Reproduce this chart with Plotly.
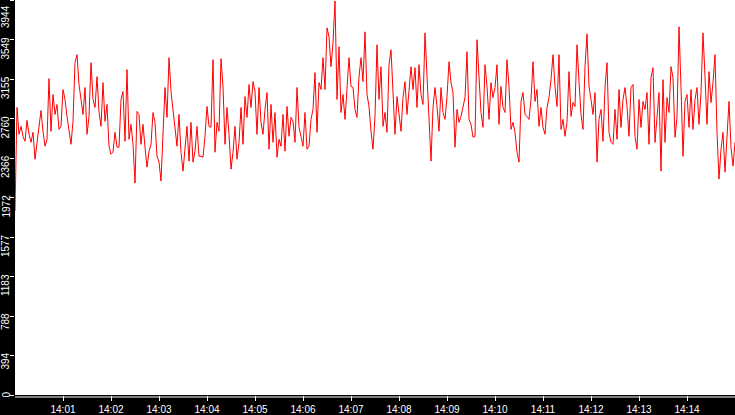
import pandas as pd
import plotly.graph_objects as go

# one reading every 2.5 s, 14:00:00 -> 14:15:00
start = pd.Timestamp('2024-01-01 14:00:00')
step = '2500ms'

seg_1 = [1838, 2871, 2603, 2682, 2583, 2533, 2742, 2603, 2523, 2623, 2354, 2533, 2702, 2841, 2633,
         2484, 2553, 3159, 2633, 3000, 2801, 2901, 2652, 2682, 3050, 2951, 2782, 2633, 2503, 2732,
         3318, 3398, 3100, 2951, 2801, 3070, 2603, 2782, 3318, 2951, 2871, 3179, 2831, 2682, 3119]
seg_2 = [2732, 2901, 2484, 2404, 2424, 2623, 2474, 2474, 2951, 3030, 2533, 3249, 2553, 2702, 2503,
         2116, 2831, 2801, 2503, 2702, 2474, 2275, 2434, 2503, 2821, 2722, 2384, 2325, 2136, 2583,
         3070, 2772, 3368, 3030, 2831, 2633, 2484, 2801, 2424, 2235, 2503, 2682, 2335, 2722, 2325]
seg_3 = [2434, 2682, 2384, 2384, 2374, 2583, 2881, 2682, 2672, 3348, 2424, 2722, 2633, 3358, 3080,
         2503, 2871, 2603, 2255, 2424, 2682, 2354, 2523, 2871, 2503, 2980, 2772, 3100, 2871, 3129,
         3030, 2603, 3070, 2722, 2603, 2851, 3020, 2454, 2901, 2523, 2821, 2374, 2553, 2484, 2801]
seg_4 = [2434, 2881, 2583, 2772, 2732, 2523, 3070, 2672, 2583, 2484, 2821, 2454, 2484, 2752, 2851,
         3219, 2623, 3119, 3050, 3368, 3050, 3666, 3576, 3278, 3517, 3934, 2951, 3477, 2821, 3000,
         2752, 3050, 3368, 3080, 3070, 2851, 2772, 3179, 3368, 3129, 3626, 3000, 2881, 2633, 2454]
seg_5 = [2782, 3497, 2951, 3278, 2682, 2821, 2623, 3298, 3447, 3020, 2603, 2980, 2782, 2633, 2970,
         3129, 2801, 3020, 3278, 3050, 3268, 2871, 3298, 3000, 2901, 3616, 3199, 2801, 2335, 2871,
         3070, 2881, 2633, 3070, 2821, 2752, 2980, 3328, 3119, 3020, 2474, 2851, 2722, 2782, 2881]
seg_6 = [2970, 3427, 2752, 2702, 2573, 2583, 3547, 3179, 2821, 2672, 3298, 3080, 2752, 3119, 2970,
         3070, 3298, 2702, 3080, 2871, 2821, 3348, 3080, 2652, 2722, 2623, 2424, 2325, 2931, 3020,
         2801, 2782, 2752, 2951, 3328, 2931, 3050, 2682, 2871, 2672, 2603, 2871, 2970, 3149, 3398]
seg_7 = [3080, 2881, 3398, 2652, 2752, 2583, 2722, 3229, 2782, 2921, 2881, 3497, 3129, 2801, 2652,
         3278, 3606, 3080, 2951, 2801, 3020, 2325, 2752, 2851, 2533, 3070, 3318, 2623, 2523, 2503,
         2851, 2553, 3050, 2672, 2951, 3070, 2881, 2583, 3070, 3100, 2583, 2454, 2951, 2672, 2931]
seg_8 = [2851, 3020, 2503, 3169, 3268, 2523, 2772, 3020, 2235, 3149, 2523, 2970, 2821, 3278, 3169,
         2573, 2772, 3676, 3070, 2384, 2931, 3000, 2672, 3050, 2652, 2951, 3070, 2702, 3020, 3616,
         3179, 2702, 3229, 2921, 3119, 3398, 2623, 2156, 2454, 2623, 2225, 2533, 2931, 2474, 2285,
         2523]

values = seg_1 + seg_2 + seg_3 + seg_4 + seg_5 + seg_6 + seg_7 + seg_8
times = pd.date_range(start, periods=len(values), freq=step)

y_max = 3944
y_ticks = [0, 394, 788, 1183, 1577, 1972, 2366, 2760, 3155, 3549, 3944]
x_labels = ['14:01', '14:02', '14:03', '14:04', '14:05', '14:06', '14:07',
            '14:08', '14:09', '14:10', '14:11', '14:12', '14:13', '14:14']
x_ticks = [pd.Timestamp('2024-01-01 ' + t) for t in x_labels]

font = dict(family='Liberation Sans, Arial, sans-serif', size=10, color='white')

fig = go.Figure()
fig.add_trace(go.Scatter(x=times, y=values, mode='lines',
                         line=dict(color='#ff0000', width=1), hoverinfo='skip'))

# y labels drawn as rotated text just below each tick
for v in y_ticks:
    top = v == y_max
    fig.add_annotation(x=0, xref='paper', xanchor='right', xshift=-2,
                       y=v, yref='y', yanchor='top', yshift=-3 if top else 5,
                       text=str(v), textangle=-90, showarrow=False, font=font)

# white base line just under the plot area
fig.add_shape(type='line', xref='paper', yref='paper', x0=0, x1=1,
              y0=-2 / 397, y1=-2 / 397, line=dict(color='white', width=1))

fig.update_layout(
    width=735, height=415,
    margin=dict(l=15, r=0, t=0, b=18),
    paper_bgcolor='black', plot_bgcolor='white',
    showlegend=False,
    xaxis=dict(range=[start, start + pd.Timedelta(minutes=15)],
               tickvals=x_ticks, ticktext=x_labels,
               ticks='outside', ticklen=5, tickcolor='white',
               tickfont=font, showgrid=False, zeroline=False, showline=False),
    yaxis=dict(range=[0, y_max], tickvals=y_ticks, showticklabels=False,
               ticks='outside', ticklen=4, tickcolor='white',
               showgrid=False, zeroline=False, showline=False),
)

fig.write_html('out.html', config={'displayModeBar': False},
               post_script="document.body.style.margin='0';document.body.style.overflow='hidden';")
